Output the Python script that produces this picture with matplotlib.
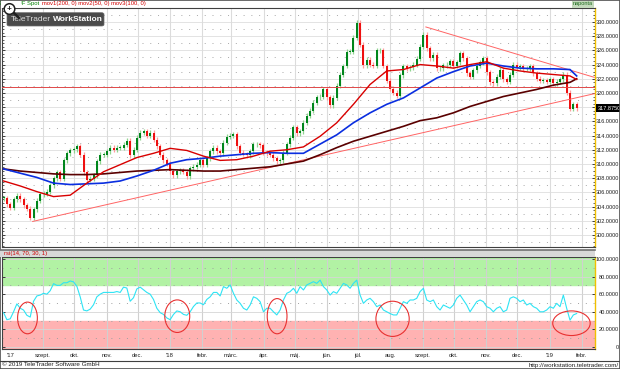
import numpy as np
import pandas as pd
import matplotlib
matplotlib.use("Agg")
import matplotlib.pyplot as plt
import matplotlib.dates as mdates
from matplotlib.patches import Ellipse, Rectangle, FancyBboxPatch, Circle
from matplotlib.lines import Line2D
from matplotlib.ticker import MultipleLocator
from matplotlib.transforms import IdentityTransform

plt.rcParams['font.family'] = ['Liberation Sans', 'DejaVu Sans']

closes = [
    305.2, 304.3, 303.8, 305.0, 305.5, 305.0, 304.2, 303.7, 302.4, 303.6,
    304.8, 305.7, 305.8, 306.1, 307.0, 308.0, 308.8, 307.9, 310.5, 311.5,
    311.9, 312.1, 312.5, 311.3, 308.8, 307.8, 307.9, 308.4, 310.4, 311.3,
    311.3, 311.8, 312.3, 312.0, 312.3, 312.3, 312.7, 313.3, 311.2, 312.0,
    313.7, 314.4, 314.6, 314.0,
    314.4, 313.4, 312.5, 311.3, 310.5, 310.0, 309.0, 308.4, 309.0, 309.1,
    308.9, 308.3, 309.4, 309.6, 309.9, 310.6, 309.9, 310.8, 311.8, 312.3,
    311.8, 311.5, 313.0, 313.8, 314.0, 314.2, 312.5, 311.6, 311.4, 311.2,
    311.8, 312.8, 312.8, 312.6, 311.6, 311.5, 311.3, 310.8, 310.4, 310.5,
    311.6, 312.8, 313.7, 315.2, 314.3,
    314.6, 315.8, 316.8, 317.5, 318.6, 319.4, 319.5, 320.5, 319.4, 318.3,
    319.3, 321.0, 322.6, 323.8, 325.8, 325.8, 327.8, 329.9, 326.8, 323.9,
    324.7, 324.0, 323.8, 326.0, 326.0, 323.8, 321.7, 320.6, 320.0, 319.6,
    322.5, 323.8, 323.5, 323.6, 324.0, 324.8, 326.5, 328.2, 326.3, 324.9,
    325.4, 323.5, 323.5, 323.9, 324.0,
    324.5, 323.8, 324.3, 325.6, 324.9, 322.8, 322.3, 323.2, 323.8, 324.3,
    324.9, 322.9, 321.5, 321.4, 322.3, 323.3, 321.9, 321.6, 322.6, 324.0,
    323.6, 323.8, 323.4, 323.4, 323.8, 322.8, 322.0, 321.7, 321.8, 321.6,
    321.9, 321.4, 321.6, 321.9, 322.6, 320.0, 317.8, 318.4, 317.875,
]
dates = pd.date_range("2017-07-25", "2019-01-27", periods=len(closes))

# moving averages, read every 5th sample
ma_dates = list(dates[::5]) + [dates[-1]]
ma200 = [309.3, 309.0, 308.8, 308.6, 308.5, 308.5, 308.6, 308.8, 309.0,
         309.1, 309.2, 309.1, 309.0, 309.0, 309.2, 309.4, 309.6, 310.0,
         310.4, 311.3, 312.3, 313.2, 313.9, 314.6, 315.3, 316.1, 316.5,
         317.2, 318.1, 318.8, 319.5, 320.0, 320.5, 321.1, 321.5, 322.0]
ma100 = [309.3, 308.7, 308.1, 307.3, 307.1, 307.2, 307.3, 307.6, 308.3,
         309.1, 310.1, 310.6, 310.8, 311.1, 311.3, 311.5, 311.6, 311.5,
         311.5, 312.8, 314.1, 315.8, 317.2, 318.4, 319.3, 320.7, 322.1,
         323.0, 323.8, 324.2, 323.8, 323.5, 323.4, 323.4, 323.3, 322.4]
ma50 = [307.6, 306.9, 306.1, 305.4, 305.6, 307.3, 308.9, 309.9, 310.9,
        311.5, 312.2, 311.9, 311.1, 310.5, 310.6, 311.1, 311.8, 312.0,
        312.4, 313.9, 315.8, 318.4, 321.2, 323.1, 323.3, 324.0, 323.8,
        323.5, 324.0, 324.4, 323.5, 323.1, 322.8, 322.6, 322.4, 321.9]

rsi = [
    39, 31, 32, 40, 49, 44, 42, 36, 34, 52, 58, 59, 61, 60, 64, 72, 70, 70,
    73, 73, 75, 74, 69, 57, 42, 41, 43, 48, 57, 60, 62, 62, 62, 62, 63, 62,
    68, 67, 52, 56, 66, 68, 65, 62, 60, 54, 44, 39, 37, 33, 31, 37, 41, 40,
    37, 36, 40, 46, 50, 50, 48, 54, 57, 62, 62, 58,
    68.6, 66.7, 70.5, 61, 53.4, 49.6, 44, 42, 47.7, 57, 55.3, 51.5, 40, 44,
    44, 40, 36.4, 42, 53.4, 61, 62.9, 66.7, 61, 68.6, 64.8, 70.5, 72.3, 74.2,
    72.3, 76, 68.6, 64.8, 59, 62.9, 61, 66.7, 72.3, 70.5, 66.7, 72.3, 76, 59,
    49.6, 53.4, 55.3, 51.5, 45.8, 47.7, 42, 40, 38, 36.4, 36.4, 44, 51.5,
    49.6, 53.4, 53.4, 55.3, 62.9,
    66.7, 53.4, 51.5, 53.4, 45.8, 42, 47.7, 45.8, 44, 47.7, 55.3, 59, 53.4,
    47.7, 40, 45.8, 51.5, 53.4, 51.5, 45.8, 44, 40, 44, 45.8, 40, 42, 55.3,
    57, 55.3, 51.5, 53.4, 47.7, 49.6, 45.8, 44, 40, 40, 42, 45.8, 44, 49.6,
    45.8, 59, 44, 30.5, 36.4, 38,
]

support_dates = ["2017-08-22", "2019-02-13"]
support_vals = [301.9, 319.9]
resist_dates = ["2018-09-04", "2019-02-13"]
resist_vals = [329.3, 322.2]
level = 320.85

# circled RSI lows: centre date, centre value, width (days), height
circles = [("2017-08-17", 33, 19, 36), ("2018-01-08", 35, 24, 37),
           ("2018-04-14", 35, 19, 40), ("2018-08-03", 32, 32, 40),
           ("2019-01-22", 27, 36, 28)]

month_starts = pd.date_range("2017-08-01", "2019-02-01", freq="MS")
month_names = ["'17", "szept.", "okt.", "nov.", "dec.", "'18", "febr.", "márc.",
               "ápr.", "máj.", "jún.", "júl.", "aug.", "szept.", "okt.", "nov.",
               "dec.", "'19", "febr."]

W, H = 620, 369
x_lo, x_hi = mdates.date2num(pd.Timestamp("2017-07-23 12:00")), mdates.date2num(pd.Timestamp("2019-02-13 15:00"))


def box(x0, y0, x1, y1):
    return [x0 / W, 1 - y1 / H, (x1 - x0) / W, (y1 - y0) / H]


def px(x, y):
    return x / W, 1 - y / H


fig = plt.figure(figsize=(6.2, 3.69), dpi=100)
fig.patch.set_facecolor('white')

ax = fig.add_axes(box(2, 8, 595, 247))
rax = fig.add_axes(box(2, 256.7, 595, 349))

# ---- price panel
for v in range(300, 332, 2):
    ax.axhline(v, color='#dedede', lw=0.6, zorder=0)
for v in range(299, 332, 2):
    ax.axhline(v, color='#a8a8a8', lw=0.7, ls=(0, (1, 7)), zorder=0)
for d in month_starts[1:]:
    ax.axvline(mdates.date2num(d), color='#dcdcdc', lw=0.8, zorder=0)
    rax.axvline(mdates.date2num(d), color='#d0d0d0', lw=0.8, zorder=1)

c = np.array(closes)
o = np.r_[c[0], c[:-1]]
up = c >= o
lo, hi = np.minimum(o, c), np.maximum(o, c)
dn = mdates.date2num(dates)
step = dn[1] - dn[0]
ax.vlines(dn, lo - 0.35, hi + 0.35, colors=np.where(up, '#8fd48f', '#ff9c9c'), lw=0.9, zorder=2)
ax.bar(dn, np.maximum(hi - lo, 0.08), bottom=lo, width=step * 0.6,
       color=np.where(up, '#00861c', '#ee1010'), linewidth=0, zorder=3)

ax.axhline(level, color='#e04848', lw=0.7, zorder=4)
ax.plot(mdates.date2num(pd.to_datetime(support_dates)), support_vals, color='#ff6464', lw=0.7, zorder=4)
ax.plot(mdates.date2num(pd.to_datetime(resist_dates)), resist_vals, color='#ff6464', lw=0.7, zorder=4)

md = mdates.date2num(pd.to_datetime(ma_dates))
ax.plot(md, ma200, color='#5a0000', lw=1.2, zorder=5)
ax.plot(md, ma100, color='#0a2ee0', lw=1.2, zorder=5)
ax.plot(md, ma50, color='#d80000', lw=1.0, zorder=5)

ax.set_xlim(x_lo, x_hi)
ax.set_ylim(298.3, 331.97)
ax.set_xticks([])
yt = np.arange(300, 331, 2)
ax.set_yticks(yt)
# the last-price box covers the tick label next to it
ax.set_yticklabels(["" if abs(v - closes[-1]) < 1 else f"{v:.4f}" for v in yt])
ax.yaxis.set_minor_locator(MultipleLocator(0.5))
ax.tick_params(axis='y', which='major', direction='in', length=2.5, width=0.6,
               left=True, right=True, labelleft=False, labelright=True,
               labelsize=4.0, pad=17.3, colors='#202020')
ax.tick_params(axis='y', which='minor', direction='in', length=1.2, width=0.5,
               left=True, right=True, colors='#202020')
for lab in ax.get_yticklabels():
    lab.set_ha('right')
ax.text(1.004, closes[-1], f"{closes[-1]:.4f}", transform=ax.get_yaxis_transform(),
        ha='left', va='center', fontsize=4.0, color='white',
        bbox=dict(boxstyle='square,pad=0.25', fc='black', ec='none'))

# ---- RSI panel
rax.axhspan(70, 120, color='#b2f2a4', zorder=0)
rax.axhspan(-20, 30, color='#ffb2b2', zorder=0)
for v in range(0, 101, 20):
    rax.axhline(v, color='#d6d6d6', lw=0.6, zorder=1)
for v in range(10, 100, 20):
    rax.axhline(v, color='#a0a0a0', lw=0.7, ls=(0, (1, 7)), zorder=1)
rax.plot(dn, rsi, color='#2ee4f4', lw=0.8, zorder=3)
for cd, cv, cw, ch in circles:
    rax.add_patch(Ellipse((mdates.date2num(pd.Timestamp(cd)), cv), cw, ch,
                          fill=False, ec='#e83030', lw=0.8, zorder=4))
rax.set_xlim(x_lo, x_hi)
rax.set_ylim(-2.3, 102.6)
rax.set_xticks([])
rt = [0, 20, 40, 60, 80, 100]
rax.set_yticks(rt)
rax.set_yticklabels(["0"] + [f"{v:.4f}" for v in rt[1:]])
rax.tick_params(axis='y', direction='in', length=2.5, width=0.6,
                left=True, right=True, labelleft=False, labelright=True,
                labelsize=4.0, pad=17.3, colors='#202020')
for lab in rax.get_yticklabels():
    lab.set_ha('right')

for a in (ax, rax):
    for s in ('left', 'top', 'bottom'):
        a.spines[s].set_color('#404040')
        a.spines[s].set_linewidth(0.8)
    a.spines['right'].set_color('#f0c000')
    a.spines['right'].set_linewidth(1.0)

# ---- frame, strips and texts
fig.add_artist(Rectangle(px(0, 369), 1, 1, transform=fig.transFigure, fill=False,
                         ec='#505050', lw=1.2))
fig.add_artist(Rectangle(px(0, 256.7), 595 / W, 6.5 / H, transform=fig.transFigure,
                         fc='#d8d8d8', ec='none'))
fig.add_artist(Line2D([0, 595 / W], [1 - 249.8 / H] * 2, transform=fig.transFigure,
                      color='#707070', lw=1.2))
fig.add_artist(Line2D([0, 1], [1 - 360.5 / H] * 2, transform=fig.transFigure,
                      color='#404040', lw=0.8))
fig.text(*px(4, 253.5), "rsi(14, 70, 30, 1)", fontsize=4.2, color='#d00000', va='center')

fig.text(*px(39.5, 3.8), "EUR/HUF Spot", fontsize=4.2, color='#008000', va='center', ha='right')
fig.text(*px(41.5, 3.8), "mov1(200, 0) mov2(50, 0) mov3(100, 0)", fontsize=4.2,
         color='#d00000', va='center')
fig.add_artist(Rectangle(px(572, 7.5), 22 / W, 7 / H, transform=fig.transFigure,
                         fc='#c4dabc', ec='none'))
fig.text(*px(583, 3.8), "naponta", fontsize=4.0, color='#1c6a1c', va='center', ha='center')

fig.add_artist(FancyBboxPatch(px(7, 26), 97 / W, 13.3 / H, transform=fig.transFigure,
                              boxstyle='round,pad=0,rounding_size=0.004',
                              fc='#4a4a4a', ec='#6a6a6a', lw=0.5))
fig.text(*px(11, 19.5), "TeleTrader", fontsize=6, color='#dcdcdc', va='center')
fig.text(*px(52.5, 19.5), "WorkStation", fontsize=6, color='white', va='center',
         fontweight='bold')

# magnifier icon, sitting on a white patch that hides the start of the title
fig.add_artist(Rectangle(px(1, 7.5), 20 / W, 6.5 / H, transform=fig.transFigure,
                         fc='white', ec='none', zorder=5))
fig.add_artist(Line2D([14, 19], [H - 13, H - 18], transform=IdentityTransform(),
                      color='#202020', lw=1.8, solid_capstyle='round', zorder=6))
fig.add_artist(Circle((9.5, H - 9), 5.3, transform=IdentityTransform(),
                      fc='white', ec='#202020', lw=1.1, zorder=6))
fig.text(*px(9.5, 9.2), "+", fontsize=6, color='#202020', va='center', ha='center',
         fontweight='bold', zorder=7)

for d, name in zip(month_starts, month_names):
    xf = (2 + (mdates.date2num(d) - x_lo) / (x_hi - x_lo) * 593) / W
    fig.text(xf, 1 - 355.5 / H, name, fontsize=4.2, color='#202020',
             va='center', ha='center')

fig.text(*px(2, 365), "© 2019 TeleTrader Software GmbH", fontsize=4.5,
         color='#202020', va='center')
fig.text(*px(619, 365), "http://workstation.teletrader.com/", fontsize=4.5,
         color='#202020', va='center', ha='right')

fig.savefig("out.png", dpi=100, facecolor='white')
